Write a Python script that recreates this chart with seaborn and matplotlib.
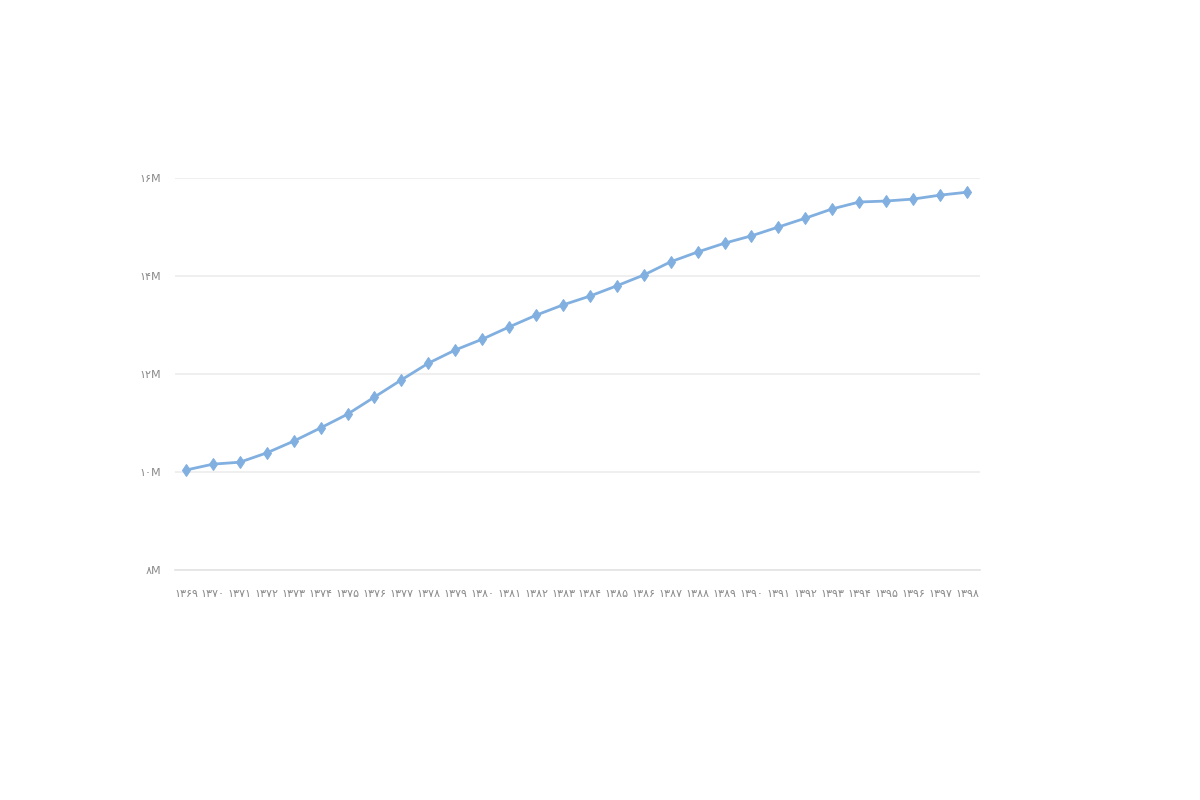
import pandas as pd
import seaborn as sns
import matplotlib.pyplot as plt


# years (solar hijri) and population-like values in millions
years = ['۱۳۶۹', '۱۳۷۰', '۱۳۷۱', '۱۳۷۲', '۱۳۷۳', '۱۳۷۴', '۱۳۷۵', '۱۳۷۶', '۱۳۷۷', '۱۳۷۸',
         '۱۳۷۹', '۱۳۸۰', '۱۳۸۱', '۱۳۸۲', '۱۳۸۳', '۱۳۸۴', '۱۳۸۵', '۱۳۸۶', '۱۳۸۷', '۱۳۸۸',
         '۱۳۸۹', '۱۳۹۰', '۱۳۹۱', '۱۳۹۲', '۱۳۹۳', '۱۳۹۴', '۱۳۹۵', '۱۳۹۶', '۱۳۹۷', '۱۳۹۸']
values = [10.04, 10.16, 10.20, 10.39, 10.63, 10.90, 11.18, 11.53, 11.88, 12.22,
          12.49, 12.71, 12.96, 13.20, 13.41, 13.59, 13.80, 14.02, 14.29, 14.49,
          14.67, 14.82, 15.00, 15.18, 15.37, 15.51, 15.53, 15.57, 15.65, 15.71]
y_ticks = [8, 10, 12, 14, 16]
y_labels = ['۸M', '۱۰M', '۱۲M', '۱۴M', '۱۶M']

df = pd.DataFrame({'year': years, 'value': values})
df['pos'] = range(len(df))

sns.set_style('white')
plt.rcParams['font.family'] = ['DejaVu Sans']

fig = plt.figure(figsize=(12, 8), dpi=100)
ax = fig.add_axes([0.146, 0.2875, 0.671, 0.49])

sns.lineplot(data=df, x='pos', y='value', ax=ax, color='#80afe0', linewidth=2,
             marker='d', markersize=6.5, markeredgecolor='#80afe0')
for line in ax.lines:
    line.set_clip_on(False)

ax.set_ylim(8, 16)
ax.set_xlim(-0.4, len(years) - 0.5)
ax.set_yticks(y_ticks)
ax.set_yticklabels(y_labels)
ax.set_xticks(df['pos'])
ax.set_xticklabels(years)
ax.tick_params(axis='both', length=0, labelsize=8, colors='#8a8a8a')
ax.tick_params(axis='y', pad=10)
ax.tick_params(axis='x', pad=14)
ax.grid(axis='y', color='#ececec', linewidth=1.2)
ax.set_axisbelow(True)
for side in ['top', 'right', 'left']:
    ax.spines[side].set_visible(False)
ax.spines['bottom'].set_color('#e3e3e3')
ax.spines['bottom'].set_linewidth(1.2)
ax.set_xlabel('')
ax.set_ylabel('')

fig.savefig('out.png', dpi=100)
